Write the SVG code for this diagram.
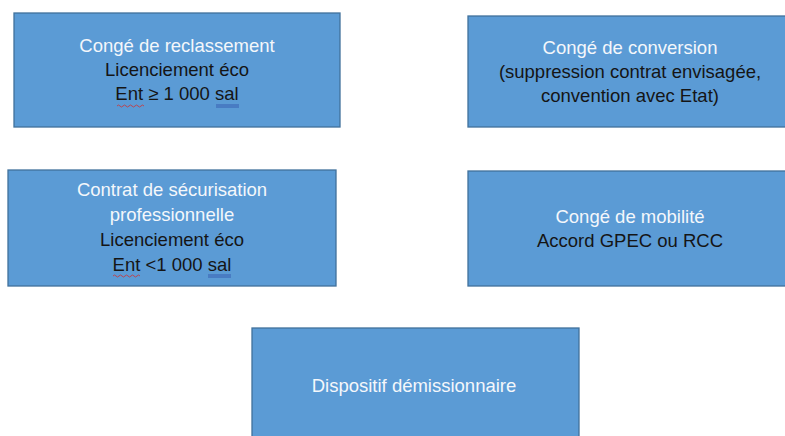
<svg xmlns="http://www.w3.org/2000/svg" width="785" height="436" viewBox="0 0 785 436">
<style>
.box{fill:#5b9bd5;stroke:#41719c;stroke-width:1.3}
text{font-family:"Liberation Sans",Arial,sans-serif;font-size:18.5px;text-anchor:middle}
.w{fill:#f4f7fb}
.k{fill:#151515}
.sp{fill:none;stroke:#d03030;stroke-width:0.8}
.gr{fill:none;stroke:#2e4fa8;stroke-width:0.8}
</style>
<rect width="785" height="436" fill="#ffffff"/>
<g id="n1">
<rect class="box" x="14" y="13" width="326" height="114"/>
<text class="w" x="177" y="52">Congé de reclassement</text>
<text class="k" x="177" y="76">Licenciement éco</text>
<text class="k" x="177" y="100">Ent ≥ 1 000 sal</text>
<path class="sp" d="M117,106 q1.5,-2 3,0 t3,0 t3,0 t3,0 t3,0 t3,0 t3,0 t3,0 t3,0"/>
<path class="gr" d="M216,105 h23 M216,107 h23"/>
</g>
<g id="n2">
<rect class="box" x="468" y="16" width="324" height="111"/>
<text class="w" x="630" y="54">Congé de conversion</text>
<text class="k" x="630" y="78">(suppression contrat envisagée,</text>
<text class="k" x="630" y="102">convention avec Etat)</text>
</g>
<g id="n3">
<rect class="box" x="8" y="170" width="328" height="116"/>
<text class="w" x="172" y="196">Contrat de sécurisation</text>
<text class="w" x="172" y="221">professionnelle</text>
<text class="k" x="172" y="246">Licenciement éco</text>
<text class="k" x="172" y="271">Ent &lt;1 000 sal</text>
<path class="sp" d="M113,276 q1.5,-2 3,0 t3,0 t3,0 t3,0 t3,0 t3,0 t3,0 t3,0 t3,0"/>
<path class="gr" d="M208,275 h23 M208,277 h23"/>
</g>
<g id="n4">
<rect class="box" x="468" y="171" width="324" height="115"/>
<text class="w" x="630" y="223">Congé de mobilité</text>
<text class="k" x="630" y="247">Accord GPEC ou RCC</text>
</g>
<g id="n5">
<rect class="box" x="252" y="328" width="327" height="115"/>
<text class="w" x="414" y="392">Dispositif démissionnaire</text>
</g>
<g id="connectors"></g>
</svg>
